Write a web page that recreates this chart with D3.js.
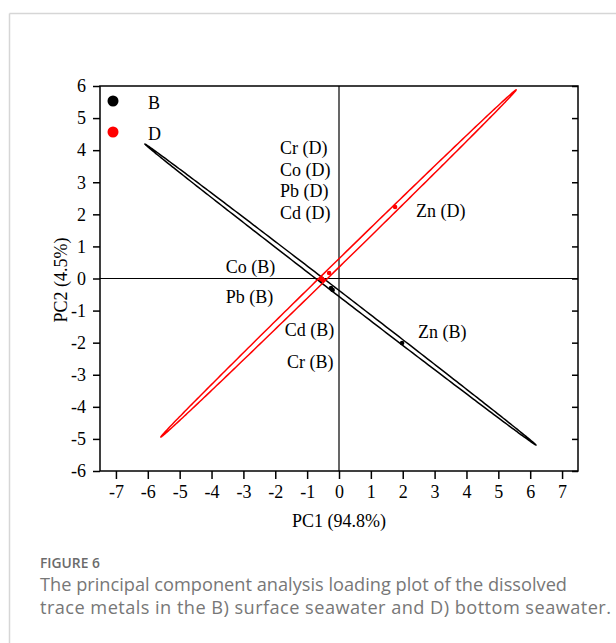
<!DOCTYPE html>
<html>
<head>
<meta charset="utf-8">
<script src="https://cdn.jsdelivr.net/npm/d3@7"></script>
<style>
    body { margin: 0; background: #fff; }
    svg { display: block; }
</style>
</head>
<body>
<svg id="pca-graph"></svg>
<script>
// DATA
let metals = ["Cr", "Co", "Pb", "Cd", "Zn"]
let pc1_B = [-0.25, -0.55, -0.55, -0.2, 1.98]
let pc2_B = [-0.3, -0.02, -0.05, -0.36, -2.01]
let pc1_D = [-0.55, -0.55, -0.5, -0.31, 1.76]
let pc2_D = [-0.02, 0.0, -0.05, 0.17, 2.23]

// ELLIPSE TIPS AND HALF WIDTH (data units)
let ellipse_B = [[-6.09, 4.19], [6.18, -5.19], 0.075]
let ellipse_D = [[-5.59, -4.94], [5.56, 5.88], 0.095]

// LABELS (text, x, y in data units)
let label_text = ["Cr (D)", "Co (D)", "Pb (D)", "Cd (D)", "Zn (D)", "Co (B)", "Pb (B)", "Cd (B)", "Cr (B)", "Zn (B)"]
let label_x = [-1.85, -1.85, -1.85, -1.85, 2.42, -3.55, -3.55, -1.7, -1.63, 2.48]
let label_y = [3.88, 3.21, 2.54, 1.85, 1.92, 0.17, -0.76, -1.79, -2.79, -1.85]

let x_ticks = [-7, -6, -5, -4, -3, -2, -1, 0, 1, 2, 3, 4, 5, 6, 7]
let y_ticks = [-6, -5, -4, -3, -2, -1, 0, 1, 2, 3, 4, 5, 6]

let series_names = ["B", "D"]
let series_colours = ["#000000", "#ff0000"]

let margins = {top: 86, left: 100}
let svgWidth = 478
let svgHeight = 385

let chartContainer = d3
    .select('#pca-graph')
    .attr('width', 616)
    .attr('height', 643)

// PAGE FRAME
chartContainer.append('line')
    .attr('x1', 9.5).attr('x2', 616).attr('y1', 13.5).attr('y2', 13.5)
    .attr('stroke', '#d6d6d6').attr('stroke-width', 1.5)
chartContainer.append('line')
    .attr('x1', 9.5).attr('x2', 9.5).attr('y1', 13.5).attr('y2', 643)
    .attr('stroke', '#d6d6d6').attr('stroke-width', 1.5)

let chart = chartContainer
    .append('g')
    .attr("transform", `translate(${margins.left},${margins.top})`)

let x = d3.scaleLinear().domain([-7.5, 7.5]).range([0, svgWidth])
let y = d3.scaleLinear().domain([-6, 6]).range([svgHeight, 0])

let font = "'Liberation Serif', 'Times New Roman', serif"

// ZERO LINES
chart.append('line')
    .attr('x1', x(0)).attr('x2', x(0)).attr('y1', 0).attr('y2', svgHeight)
    .attr('stroke', '#000').attr('stroke-width', 1.2)
chart.append('line')
    .attr('x1', 0).attr('x2', svgWidth).attr('y1', y(0)).attr('y2', y(0))
    .attr('stroke', '#000').attr('stroke-width', 1.2)

// ELLIPSES
function ellipse_path(e) {
    let p1 = [x(e[0][0]), y(e[0][1])]
    let p2 = [x(e[1][0]), y(e[1][1])]
    let cx = (p1[0] + p2[0]) / 2
    let cy = (p1[1] + p2[1]) / 2
    let a = Math.hypot(p2[0] - p1[0], p2[1] - p1[1]) / 2
    let b = Math.abs(y(0) - y(e[2]))
    let ang = Math.atan2(p2[1] - p1[1], p2[0] - p1[0])
    let pts = d3.range(0, 361, 1).map(function(d) {
        let t = d * Math.PI / 180
        let ex = a * Math.cos(t), ey = b * Math.sin(t)
        return [cx + ex * Math.cos(ang) - ey * Math.sin(ang), cy + ex * Math.sin(ang) + ey * Math.cos(ang)]
    })
    return d3.line()(pts) + "Z"
}

chart.selectAll(".ellipse")
    .data([ellipse_B, ellipse_D])
    .join("path")
        .attr("class", "ellipse")
        .attr("d", d => ellipse_path(d))
        .attr("fill", "none")
        .attr("stroke", (d, i) => series_colours[i])
        .attr("stroke-width", 1.5)

// POINTS
chart.selectAll(".pt-b")
    .data(metals)
    .join("circle")
        .attr("class", "pt-b")
        .attr("cx", (d, i) => x(pc1_B[i]))
        .attr("cy", (d, i) => y(pc2_B[i]))
        .attr("r", 2.3)
        .attr("fill", series_colours[0])
chart.selectAll(".pt-d")
    .data(metals)
    .join("circle")
        .attr("class", "pt-d")
        .attr("cx", (d, i) => x(pc1_D[i]))
        .attr("cy", (d, i) => y(pc2_D[i]))
        .attr("r", 2.3)
        .attr("fill", series_colours[1])

// POINT LABELS
chart.selectAll(".lbl")
    .data(label_text)
    .join("text")
        .attr("class", "lbl")
        .attr("x", (d, i) => x(label_x[i]))
        .attr("y", (d, i) => y(label_y[i]))
        .attr("font-family", font)
        .attr("font-size", 18)
        .attr("fill", "#000")
        .text(d => d)

// FRAME
chart.append('rect')
    .attr('x', 0).attr('y', 0).attr('width', svgWidth).attr('height', svgHeight)
    .attr('fill', 'none').attr('stroke', '#000').attr('stroke-width', 1.5)

// X-AXIS TICKS
chart
    .append('g')
    .call(d3.axisBottom(x).tickValues(x_ticks).tickSize(8).tickSizeOuter(0).tickFormat(d => d < 0 ? "-" + Math.abs(d) : d))
    .attr('transform', `translate(0, ${svgHeight})`)
    .call(g => g.select(".domain").remove())
    .call(g => g.selectAll("line").attr("stroke-width", 1.5))
    .call(g => g.selectAll("text").attr("dy", "1.0em").attr("y", 9))
    .attr('color', '#000')
    .attr('font-family', font)
    .attr('font-size', 18)

// Y-AXIS TICKS
chart
    .append('g')
    .call(d3.axisLeft(y).tickValues(y_ticks).tickSize(7).tickSizeOuter(0).tickFormat(d => d < 0 ? "-" + Math.abs(d) : d))
    .call(g => g.select(".domain").remove())
    .call(g => g.selectAll("line").attr("stroke-width", 1.5))
    .call(g => g.selectAll("text").attr("x", -14))
    .attr('color', '#000')
    .attr('font-family', font)
    .attr('font-size', 18)

// RIGHT INNER TICKS
chart
    .append('g')
    .call(d3.axisLeft(y).tickValues(y_ticks).tickSize(6).tickSizeOuter(0).tickFormat(""))
    .attr('transform', `translate(${svgWidth}, 0)`)
    .call(g => g.select(".domain").remove())
    .call(g => g.selectAll("line").attr("stroke-width", 1.5))
    .attr('color', '#000')

// AXIS TITLES
chart.append('text')
    .attr('x', x(0))
    .attr('y', svgHeight + 56)
    .attr('text-anchor', 'middle')
    .attr('font-family', font)
    .attr('font-size', 18)
    .text("PC1 (94.8%)")

chartContainer.append('text')
    .attr('transform', `translate(67, 280) rotate(-90)`)
    .attr('text-anchor', 'middle')
    .attr('font-family', font)
    .attr('font-size', 18)
    .text("PC2 (4.5%)")

// LEGEND
let legend = chartContainer.selectAll(".legend")
    .data(series_names)
    .join("g")
        .attr("class", "legend")
        .attr("transform", (d, i) => `translate(113, ${101 + i * 31})`)
legend.append("circle")
    .attr("r", 5.5)
    .attr("fill", (d, i) => series_colours[i])
legend.append("text")
    .attr("x", 35)
    .attr("y", 8)
    .attr('font-family', font)
    .attr('font-size', 18)
    .text(d => d)

// CAPTION
chartContainer.append('text')
    .attr('x', 40).attr('y', 568)
    .attr('font-family', "'Open Sans', sans-serif")
    .attr('font-size', 13.8)
    .attr('font-weight', 600)
    .attr('fill', '#6b6b6b')
    .text("FIGURE 6")
let caption = ["The principal component analysis loading plot of the dissolved",
               "trace metals in the B) surface seawater and D) bottom seawater."]
let caption_width = [527, 571]
chartContainer.selectAll(".cap")
    .data(caption)
    .join("text")
        .attr("class", "cap")
        .attr('x', 40)
        .attr('y', (d, i) => 591 + i * 23)
        .attr('font-family', "'Open Sans', sans-serif")
        .attr('font-size', 18.2)
        .attr('fill', '#777')
        .attr('textLength', (d, i) => caption_width[i])
        .attr('lengthAdjust', 'spacing')
        .text(d => d)
</script>
</body>
</html>
